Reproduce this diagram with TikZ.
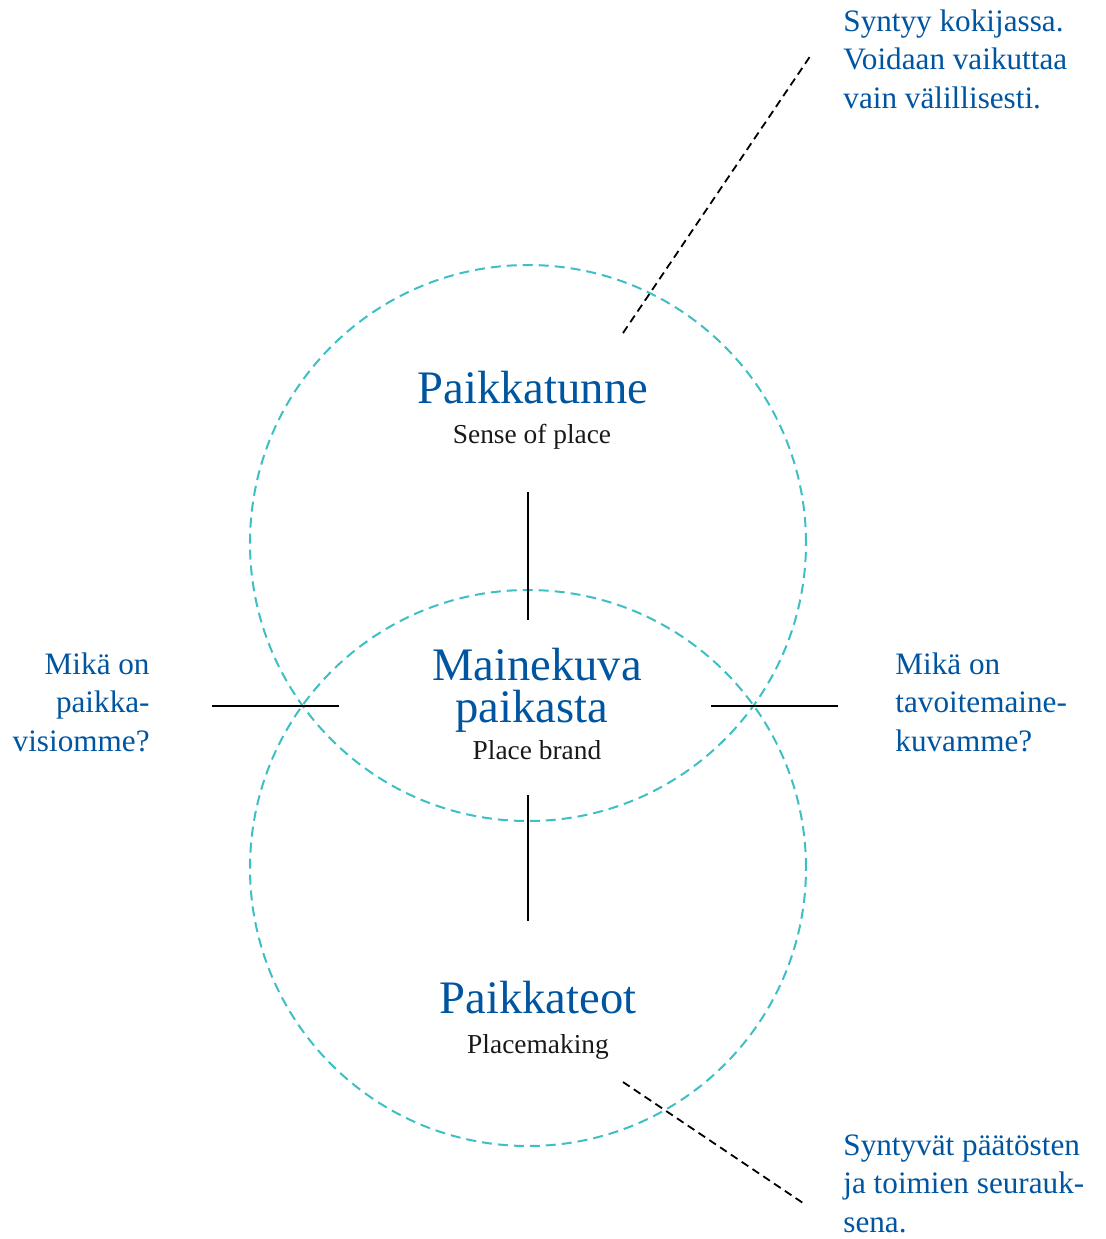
\documentclass[tikz,border=0pt]{standalone}
\usepackage{fontspec}
\setmainfont{Liberation Serif}
\usetikzlibrary{calc}
\definecolor{brandblue}{HTML}{0055A0}
\definecolor{ringteal}{HTML}{3DBFC4}

\begin{document}
\begin{tikzpicture}[x=0.5pt,y=-0.5pt,
        ring/.style={draw=ringteal,line width=1pt,dash pattern=on 5pt off 3pt},
        tick/.style={draw=black,line width=1.3pt},
        leader/.style={draw=black,line width=0.9pt,dash pattern=on 4pt off 2.5pt},
        title/.style={text=brandblue,font=\fontsize{23.3}{21.5}\selectfont,align=center,inner sep=0pt},
        subtitle/.style={text=black!90,font=\fontsize{13.7}{15}\selectfont,inner sep=0pt},
        remark/.style={text=brandblue,font=\fontsize{15.6}{19.4}\selectfont,inner sep=0pt}]
                \useasboundingbox (0,0) rectangle (1106,1239);

                % the two rings
                \foreach \a/\x/\y in {Upper/528/543,Lower/528/868}
                {
                    \coordinate (C\a) at (\x,\y);
                    \draw[ring] (C\a) circle[radius=139pt];
                }

                % short ticks
                \foreach \a/\x/\y/\u/\v in {N/528/492/528/620,S/528/795/528/921,W/212/706/339/706,E/711/706/838/706}
                {
                    \coordinate (T\a1) at (\x,\y);
                    \coordinate (T\a2) at (\u,\v);
                    \draw[tick] (T\a1) -- (T\a2);
                }

                % labels inside the rings
                \node[title,anchor=base] (sense) at (533,403) {Paikkatunne};
                \node[subtitle,anchor=base] (senseEn) at (532,443) {Sense of place};

                \node[title,anchor=base] (brand) at (537,680) {Mainekuva};
                \node[title,anchor=base] (brand2) at (532,722) {paikasta};
                \node[subtitle,anchor=base] (brandEn) at (537,759) {Place brand};

                \node[title,anchor=base] (making) at (538,1013) {Paikkateot};
                \node[subtitle,anchor=base] (makingEn) at (538,1053) {Placemaking};

                % remarks around
                \node[remark,anchor=north west,align=left] (noteTop) at (843,9)
                    {Syntyy kokijassa.\\Voidaan vaikuttaa\\vain välillisesti.};
                \node[remark,anchor=north east,align=right] (noteLeft) at (150,652)
                    {Mikä on\\paikka-\\visiomme?};
                \node[remark,anchor=north west,align=left] (noteRight) at (895,652)
                    {Mikä on\\tavoitemaine-\\kuvamme?};
                \node[remark,anchor=north west,align=left] (noteBottom) at (843,1134)
                    {Syntyvät päätösten\\ja toimien seurauk-\\sena.};

                % dashed leaders
                \coordinate (LT1) at (623,333);
                \coordinate (LT2) at (811,55);
                \coordinate (LB1) at (623,1082);
                \coordinate (LB2) at (803,1203);
                \draw[leader] (LT1) -- (LT2);
                \draw[leader] (LB1) -- (LB2);
            \end{tikzpicture}
\end{document}
